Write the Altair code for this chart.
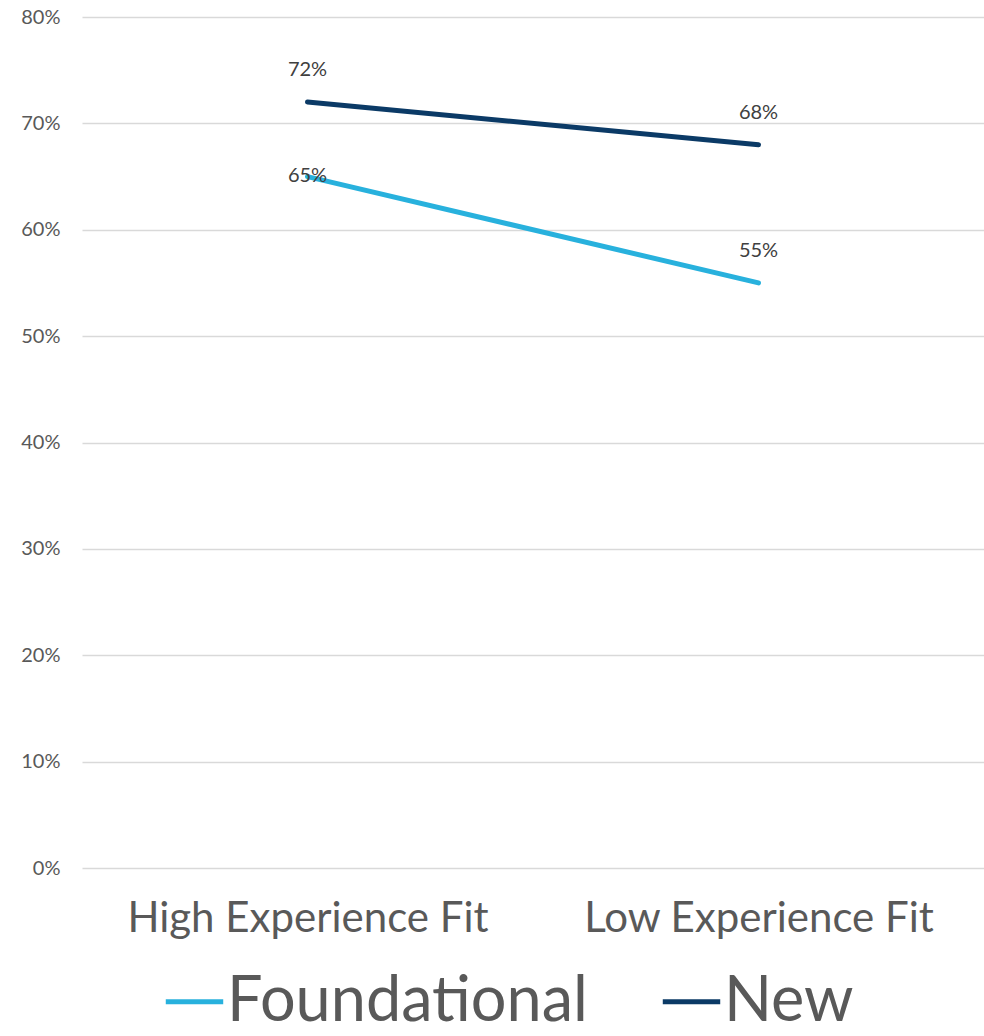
import altair as alt
import pandas as pd

categories = ["High Experience Fit", "Low Experience Fit"]
series_names = ["Foundational", "New"]
foundational = [0.65, 0.55]
new = [0.72, 0.68]

rows = []
for s, vals in zip(series_names, [foundational, new]):
    for c, v in zip(categories, vals):
        rows.append({"cat": c, "series": s, "value": v})
df = pd.DataFrame(rows)

FONT = "Lato"
colors = ["#28B1DD", "#0B3A66"]

x = alt.X("cat:N", sort=categories,
          scale=alt.Scale(type="point", padding=0.5),
          axis=alt.Axis(title=None, labelAngle=0, labelFontSize=42, labelColor="#595959",
                        labelFont=FONT, labelPadding=30, labelLimit=0,
                        domain=False, ticks=False, grid=False))
y = alt.Y("value:Q", scale=alt.Scale(domain=[0, 0.8], nice=False),
          axis=alt.Axis(title=None, format=".0%", values=[i / 10 for i in range(9)],
                        labelFontSize=20, labelColor="#595959", labelFont=FONT,
                        labelPadding=22, domain=False, ticks=False,
                        gridColor="#d9d9d9", gridWidth=1.5))
color = alt.Color("series:N", sort=series_names,
                  scale=alt.Scale(domain=series_names, range=colors),
                  legend=alt.Legend(title=None, orient="none", direction="horizontal",
                                    legendX=81, legendY=953, symbolType="stroke",
                                    symbolSize=3300, symbolStrokeWidth=5,
                                    labelFontSize=63, labelFont=FONT, labelColor="#595959",
                                    labelOffset=1, columnPadding=64, labelLimit=600))

base = alt.Chart(df)
lines = base.mark_line(strokeWidth=5, strokeCap="round").encode(x=x, y=y, color=color)

text_enc = dict(x=x, y=y, text=alt.Text("value:Q", format=".0%"))
labels = base.transform_filter(
    "!(datum.series == 'Foundational' && datum.cat == 'High Experience Fit')"
).mark_text(fontSize=20, font=FONT, color="#404040", dy=-32).encode(**text_enc)
label_on = base.transform_filter(
    "datum.series == 'Foundational' && datum.cat == 'High Experience Fit'"
).mark_text(fontSize=20, font=FONT, color="#404040", dy=-1).encode(**text_enc)

chart = alt.layer(lines, labels, label_on).properties(
    width=902, height=851,
    background="white",
    autosize=alt.AutoSizeParams(type="none"),
    padding={"left": 82, "top": 17, "right": 0, "bottom": 168},
).configure_view(stroke=None)

chart.save("out.html", embed_options={"renderer": "svg", "actions": False})
